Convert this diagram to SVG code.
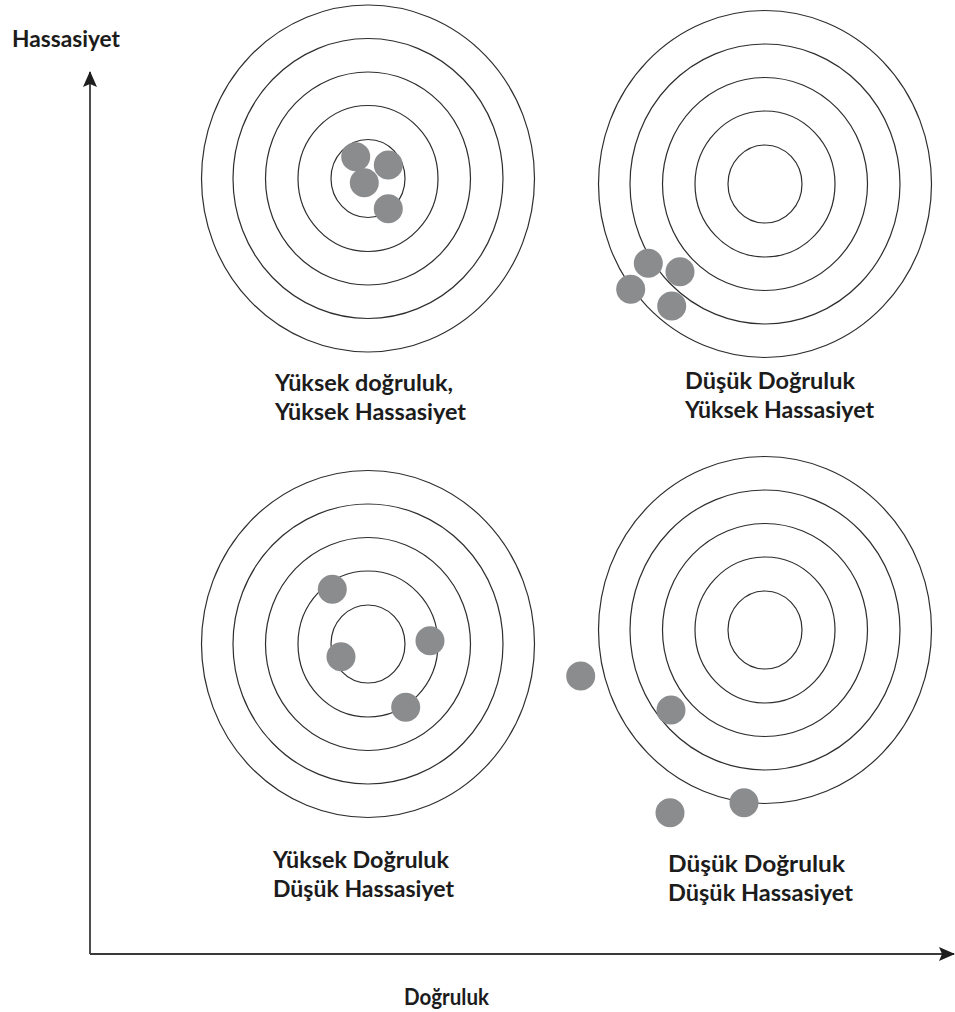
<svg xmlns="http://www.w3.org/2000/svg" xmlns:xlink="http://www.w3.org/1999/xlink" width="955" height="1012" viewBox="0 0 955 1012">
  <style>
    .ring { fill: none; stroke: #2e2e2e; stroke-width: 1.2; }
    .shot { fill: #8b8c8e; }
    .axis { fill: none; stroke: #3a3a3a; stroke-width: 1.8; }
    .label { font-family: Lato, "Open Sans", "Liberation Sans", sans-serif; font-weight: 700; font-size: 22px; fill: #1c1c1c; }
  </style>
  <defs>
    <!-- five concentric rings of a target, centred on 0,0 -->
    <g id="rings">
      <ellipse class="ring" cx="0" cy="0" rx="37" ry="39"/>
      <ellipse class="ring" cx="0" cy="0" rx="70" ry="73"/>
      <ellipse class="ring" cx="0" cy="0" rx="102.5" ry="106.5"/>
      <ellipse class="ring" cx="0" cy="0" rx="135" ry="140"/>
      <ellipse class="ring" cx="0" cy="0" rx="166.5" ry="173.5"/>
    </g>
    <marker id="arrow" viewBox="0 0 16 14" refX="15" refY="7" markerWidth="16" markerHeight="14" markerUnits="userSpaceOnUse" orient="auto">
      <path d="M0,0 L16,7 L0,14 L3,7 z" fill="#1e1e1e"/>
    </marker>
  </defs>

  <rect width="955" height="1012" fill="#ffffff"/>

  <!-- axes -->
  <g id="connectors">
    <path class="axis" d="M90,954 L90,72" marker-end="url(#arrow)"/>
    <path class="axis" d="M90,954 L954,954" marker-end="url(#arrow)"/>
  </g>

  <!-- high accuracy, high precision -->
  <g id="target-top-left">
    <use xlink:href="#rings" transform="translate(368,178.5)"/>
    <circle class="shot" cx="355.7" cy="156.7" r="14.5"/>
    <circle class="shot" cx="388.3" cy="165" r="14.5"/>
    <circle class="shot" cx="364.3" cy="182.7" r="14.5"/>
    <circle class="shot" cx="388.3" cy="208.7" r="14.5"/>
    <text class="label" x="275" y="391" textLength="178" lengthAdjust="spacingAndGlyphs">Yüksek doğruluk,</text>
    <text class="label" x="275" y="420" textLength="191" lengthAdjust="spacingAndGlyphs">Yüksek Hassasiyet</text>
  </g>

  <!-- low accuracy, high precision -->
  <g id="target-top-right">
    <use xlink:href="#rings" transform="translate(765,184)"/>
    <circle class="shot" cx="648.3" cy="263.3" r="14.5"/>
    <circle class="shot" cx="680" cy="271.7" r="14.5"/>
    <circle class="shot" cx="630.7" cy="289.3" r="14.5"/>
    <circle class="shot" cx="671.7" cy="306" r="14.5"/>
    <text class="label" x="685" y="389" textLength="170" lengthAdjust="spacingAndGlyphs">Düşük Doğruluk</text>
    <text class="label" x="685" y="418" textLength="189" lengthAdjust="spacingAndGlyphs">Yüksek Hassasiyet</text>
  </g>

  <!-- high accuracy, low precision -->
  <g id="target-bottom-left">
    <use xlink:href="#rings" transform="translate(368,644)"/>
    <circle class="shot" cx="332.3" cy="589.3" r="14.5"/>
    <circle class="shot" cx="430" cy="640.7" r="14.5"/>
    <circle class="shot" cx="341" cy="656.7" r="14.5"/>
    <circle class="shot" cx="405.7" cy="707.3" r="14.5"/>
    <text class="label" x="273" y="868" textLength="176" lengthAdjust="spacingAndGlyphs">Yüksek Doğruluk</text>
    <text class="label" x="273" y="897" textLength="181" lengthAdjust="spacingAndGlyphs">Düşük Hassasiyet</text>
  </g>

  <!-- low accuracy, low precision -->
  <g id="target-bottom-right">
    <use xlink:href="#rings" transform="translate(765,630)"/>
    <circle class="shot" cx="580.7" cy="676" r="14.5"/>
    <circle class="shot" cx="671" cy="710" r="14.5"/>
    <circle class="shot" cx="744" cy="802.7" r="14.5"/>
    <circle class="shot" cx="670" cy="812.7" r="14.5"/>
    <text class="label" x="668" y="872" textLength="177" lengthAdjust="spacingAndGlyphs">Düşük Doğruluk</text>
    <text class="label" x="668" y="901" textLength="185" lengthAdjust="spacingAndGlyphs">Düşük Hassasiyet</text>
  </g>

  <!-- axis titles -->
  <g id="axis-y-title">
    <text class="label" x="12" y="47" textLength="108" lengthAdjust="spacingAndGlyphs">Hassasiyet</text>
  </g>
  <g id="axis-x-title">
    <text class="label" x="404" y="1005" textLength="85" lengthAdjust="spacingAndGlyphs">Doğruluk</text>
  </g>
</svg>
